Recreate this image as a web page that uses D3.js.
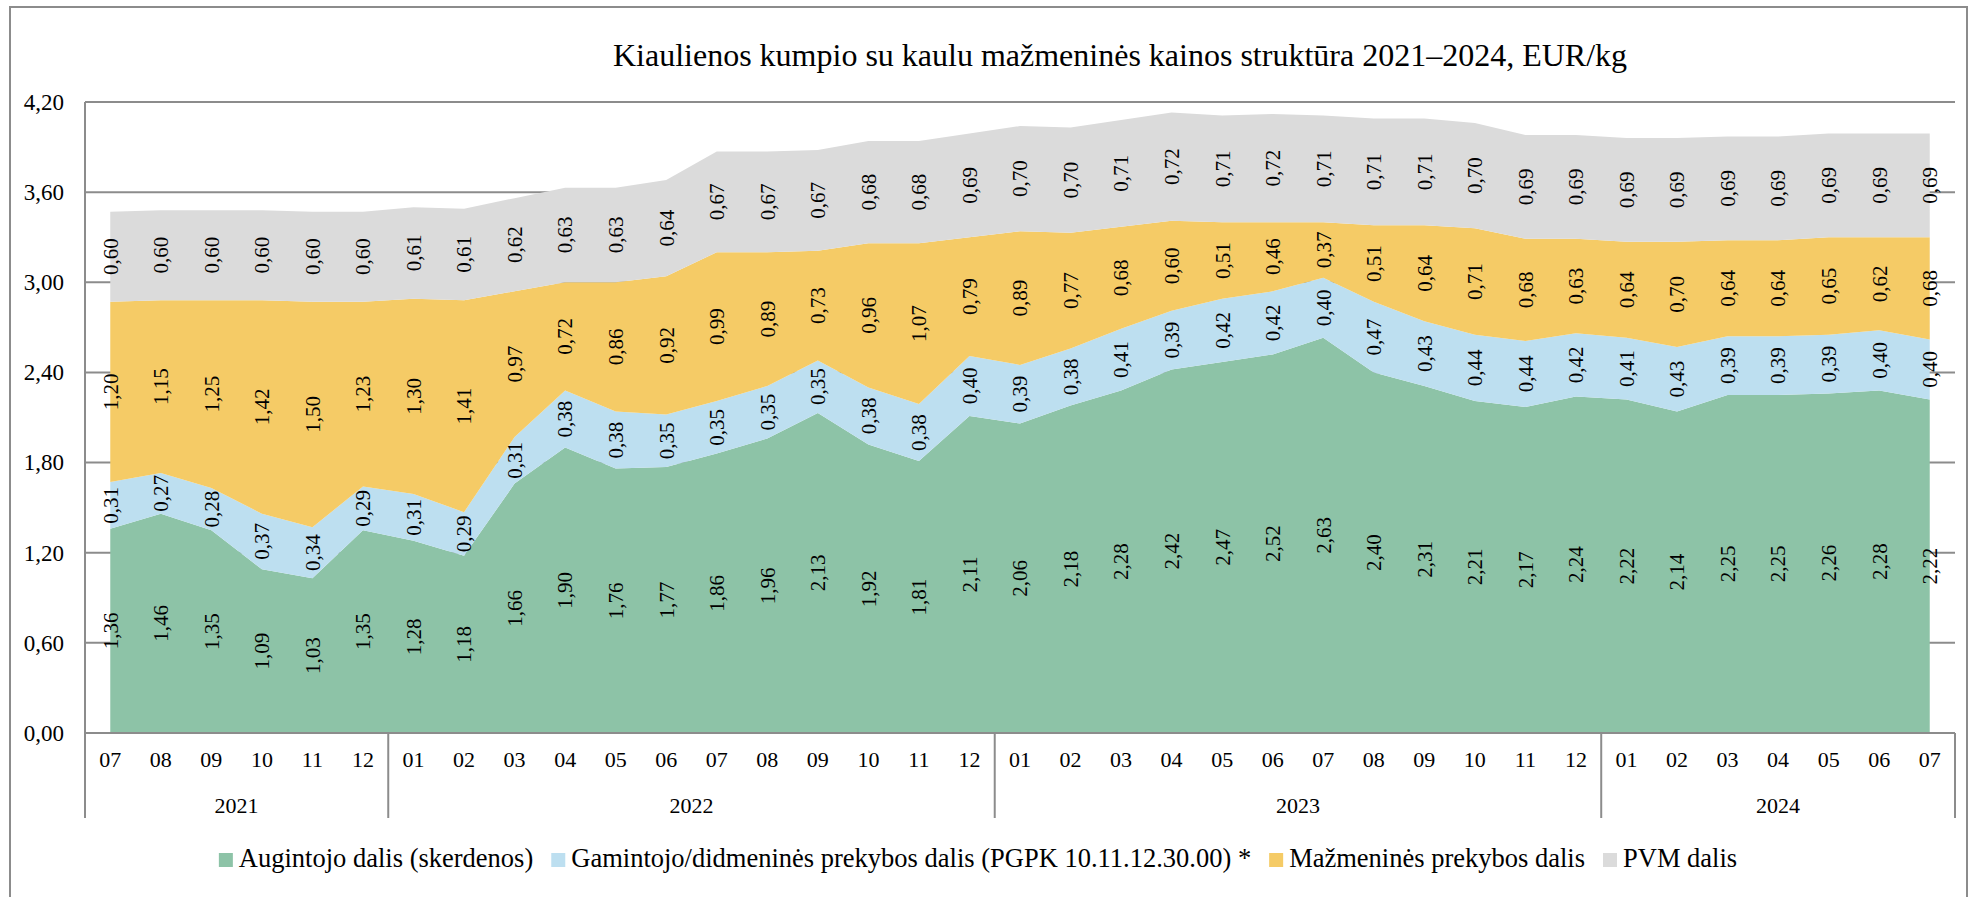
<!DOCTYPE html>
<html>
<head>
<meta charset="utf-8">
<script src="https://cdn.jsdelivr.net/npm/d3@7/dist/d3.min.js"></script>
<style>
  body { margin: 0; background: #fff; }
  svg text { font-family: "Liberation Serif", "DejaVu Serif", serif !important; fill: #000; }
</style>
</head>
<body>
<div id="chart"></div>
<script>
// Months 2021-07 .. 2024-07
var months = ["07","08","09","10","11","12",
  "01","02","03","04","05","06","07","08","09","10","11","12",
  "01","02","03","04","05","06","07","08","09","10","11","12",
  "01","02","03","04","05","06","07"];
var years = ["2021","2022","2023","2024"];
var yearCounts = [6, 12, 12, 7];

// EUR/kg shares
var augintojo = [1.36,1.46,1.35,1.09,1.03,1.35,
  1.28,1.18,1.66,1.90,1.76,1.77,1.86,1.96,2.13,1.92,1.81,2.11,
  2.06,2.18,2.28,2.42,2.47,2.52,2.63,2.40,2.31,2.21,2.17,2.24,
  2.22,2.14,2.25,2.25,2.26,2.28,2.22];
var gamintojo = [0.31,0.27,0.28,0.37,0.34,0.29,
  0.31,0.29,0.31,0.38,0.38,0.35,0.35,0.35,0.35,0.38,0.38,0.40,
  0.39,0.38,0.41,0.39,0.42,0.42,0.40,0.47,0.43,0.44,0.44,0.42,
  0.41,0.43,0.39,0.39,0.39,0.40,0.40];
var mazmenine = [1.20,1.15,1.25,1.42,1.50,1.23,
  1.30,1.41,0.97,0.72,0.86,0.92,0.99,0.89,0.73,0.96,1.07,0.79,
  0.89,0.77,0.68,0.60,0.51,0.46,0.37,0.51,0.64,0.71,0.68,0.63,
  0.64,0.70,0.64,0.64,0.65,0.62,0.68];
var pvm = [0.60,0.60,0.60,0.60,0.60,0.60,
  0.61,0.61,0.62,0.63,0.63,0.64,0.67,0.67,0.67,0.68,0.68,0.69,
  0.70,0.70,0.71,0.72,0.71,0.72,0.71,0.71,0.71,0.70,0.69,0.69,
  0.69,0.69,0.69,0.69,0.69,0.69,0.69];

var seriesKeys = ["aug", "gam", "maz", "pvm"];
var seriesNames = ["Augintojo dalis (skerdenos)",
  "Gamintojo/didmeninės prekybos dalis (PGPK 10.11.12.30.00) *",
  "Mažmeninės prekybos dalis", "PVM dalis"];
var seriesColors = ["#8dc3a7", "#bddff0", "#f5cb66", "#dbdbdb"];
var yTicks = [0, 0.6, 1.2, 1.8, 2.4, 3.0, 3.6, 4.2];

var title = "Kiaulienos kumpio su kaulu mažmeninės kainos struktūra 2021–2024, EUR/kg";

var width = 1977, height = 897;
var margin = {top: 102, right: 22, bottom: 164, left: 85};
var innerW = width - margin.left - margin.right;
var innerH = height - margin.top - margin.bottom;
var lineCol = "#8c8c8c";
var serif = '"Liberation Serif", "DejaVu Serif", serif';

// table for the stack
var rows = months.map(function(m, i) {
  return {i: i, aug: augintojo[i], gam: gamintojo[i], maz: mazmenine[i], pvm: pvm[i]};
});
var stacked = d3.stack().keys(seriesKeys)(rows);

var svg = d3.select("#chart").append("svg")
  .attr("width", width).attr("height", height)
  .attr("font-family", serif);

// outer frame
svg.append("rect")
  .attr("x", 10).attr("y", 7)
  .attr("width", 1957).attr("height", 900)
  .attr("fill", "none").attr("stroke", lineCol).attr("stroke-width", 2);

svg.append("text")
  .attr("x", 1120).attr("y", 66)
  .attr("text-anchor", "middle")
  .style("font-size", "32px")
  .text(title);

var g = svg.append("g").attr("transform", "translate(" + margin.left + "," + margin.top + ")");

var x = d3.scaleBand().domain(d3.range(months.length)).range([0, innerW]).padding(0);
var cx = function(i) { return x(i) + x.bandwidth() / 2; };
var y = d3.scaleLinear().domain([0, 4.2]).range([innerH, 0]);

// gridlines
g.selectAll(".grid").data(yTicks).enter().append("line")
  .attr("x1", 0).attr("x2", innerW)
  .attr("y1", function(d) { return y(d); }).attr("y2", function(d) { return y(d); })
  .attr("stroke", lineCol).attr("stroke-width", 2);

// stacked areas
var area = d3.area()
  .x(function(d) { return cx(d.data.i); })
  .y0(function(d) { return y(d[0]); })
  .y1(function(d) { return y(d[1]); });

g.selectAll(".layer").data(stacked).enter().append("path")
  .attr("d", area)
  .attr("fill", function(d, k) { return seriesColors[k]; });

// data labels
var fmt = function(v) { return d3.format(".2f")(v).replace(".", ","); };
stacked.forEach(function(layer) {
  g.selectAll(null).data(layer).enter().append("text")
    .attr("transform", function(d) {
      return "translate(" + cx(d.data.i) + "," + y((d[0] + d[1]) / 2) + ") rotate(-90)";
    })
    .attr("text-anchor", "middle")
    .attr("dy", "0.35em")
    .style("font-size", "21px")
    .text(function(d) { return fmt(d[1] - d[0]); });
});

// y axis
var yAxis = d3.axisLeft(y).tickValues(yTicks).tickSize(0).tickPadding(21)
  .tickFormat(function(d) { return d3.format(".2f")(d).replace(".", ","); });
var gY = g.append("g").call(yAxis).attr("font-family", serif);
gY.select(".domain").remove();
gY.selectAll("text").style("font-size", "23px");

g.append("line").attr("x1", 0).attr("x2", 0).attr("y1", 0).attr("y2", innerH)
  .attr("stroke", lineCol).attr("stroke-width", 2);

// month axis
var xAxis = d3.axisBottom(x).tickSize(0).tickPadding(18)
  .tickFormat(function(i) { return months[i]; });
var gX = g.append("g").attr("transform", "translate(0," + innerH + ")").call(xAxis)
  .attr("font-family", serif);
gX.select(".domain").remove();
gX.selectAll("text").style("font-size", "22px");

g.append("line").attr("x1", 0).attr("x2", innerW).attr("y1", innerH).attr("y2", innerH)
  .attr("stroke", lineCol).attr("stroke-width", 2);

// year groups
var start = 0;
var bounds = [0];
years.forEach(function(yr, k) {
  var x0 = x(start), x1 = start + yearCounts[k] >= months.length ? innerW : x(start + yearCounts[k]);
  g.append("text")
    .attr("x", (x0 + x1) / 2).attr("y", innerH + 80)
    .attr("text-anchor", "middle")
    .style("font-size", "22px")
    .text(yr);
  bounds.push(x1);
  start += yearCounts[k];
});
g.selectAll(".sep").data(bounds).enter().append("line")
  .attr("x1", function(d) { return d; }).attr("x2", function(d) { return d; })
  .attr("y1", innerH).attr("y2", innerH + 85)
  .attr("stroke", lineCol).attr("stroke-width", 2);

// legend
var legend = svg.append("g");
var lx = 0;
seriesNames.forEach(function(name, k) {
  var item = legend.append("g").attr("transform", "translate(" + lx + ",0)");
  item.append("rect").attr("x", 0).attr("y", -14).attr("width", 14).attr("height", 14)
    .attr("fill", seriesColors[k]);
  var t = item.append("text").attr("x", 20).attr("y", 0)
    .style("font-size", "26.5px").text(name);
  lx += 20 + t.node().getComputedTextLength() + 18;
});
lx -= 18;
legend.attr("transform", "translate(" + (978 - lx / 2) + ",867)");
</script>
</body>
</html>
